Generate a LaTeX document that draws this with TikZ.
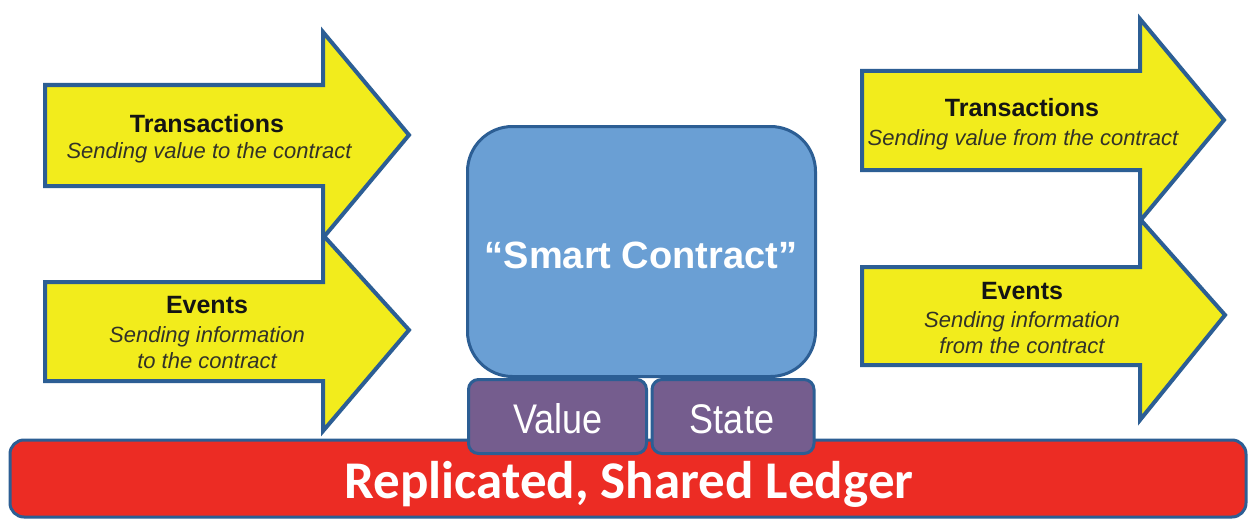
\documentclass[tikz,border=0pt]{standalone}
\usepackage{fontspec}
\setmainfont{Liberation Sans}
\newfontfamily\calibfont{Carlito}
\definecolor{arrowfill}{RGB}{242,236,28}
\definecolor{edgeblue}{RGB}{44,94,148}
\definecolor{scfill}{RGB}{106,159,212}
\definecolor{purp}{RGB}{117,93,142}
\definecolor{ledred}{RGB}{236,44,36}
\definecolor{subgray}{RGB}{50,50,40}
\begin{document}
\begin{tikzpicture}[x=1pt,y=-1pt,
  bigarrow/.style={fill=arrowfill, draw=edgeblue, line width=4pt, line join=miter},
  titletext/.style={anchor=base, inner sep=0pt, text=black!92, font=\fontsize{25}{30}\selectfont\bfseries},
  subtext/.style={anchor=base, inner sep=0pt, text=subgray, font=\fontsize{22}{26}\selectfont\itshape},
  smallbox/.style={draw=edgeblue, line width=3pt, fill=purp, rounded corners=10pt, inner sep=0pt, minimum width=178pt, minimum height=74pt},
  boxtext/.style={anchor=base, inner sep=0pt, text=white, font=\fontsize{36}{40}\selectfont}
]
\useasboundingbox (0,0) rectangle (1253,519);
\fill[white] (0,0) rectangle (1253,519);

% left arrows
\draw[bigarrow] (45,85) -- (323,85) -- (323,32) -- (409,135) -- (323,238) -- (323,186) -- (45,186) -- cycle;
\draw[bigarrow] (45,282) -- (323,282) -- (323,235) -- (409,330) -- (323,431) -- (323,381) -- (45,381) -- cycle;
% right arrows
\draw[bigarrow] (862,71) -- (1140,71) -- (1140,19) -- (1224,120) -- (1140,221) -- (1140,170) -- (862,170) -- cycle;
\draw[bigarrow] (862,267) -- (1140,267) -- (1140,219) -- (1225,315) -- (1140,420) -- (1140,365) -- (862,365) -- cycle;

% arrow texts
\node[titletext] (t1) at (207,132) {Transactions};
\node[subtext] (s1) at (209,158) {Sending value to the contract};
\node[titletext] (t2) at (207,313) {Events};
\node[subtext] (s2a) at (207,342) {Sending information};
\node[subtext] (s2b) at (207,368) {to the contract};
\node[titletext] (t3) at (1022,117) {Transactions};
\node[subtext] (s3) at (1023,145) {Sending value from the contract};
\node[titletext] (t4) at (1022,299) {Events};
\node[subtext] (s4a) at (1022,327) {Sending information};
\node[subtext] (s4b) at (1022,353) {from the contract};

% ledger
\node[draw=edgeblue, line width=3pt, fill=ledred, rounded corners=14pt, inner sep=0pt,
      minimum width=1236pt, minimum height=77pt] (ledger) at (628,478.5) {};
\node[anchor=base, inner sep=0pt, text=white, font=\calibfont\fontsize{53}{60}\selectfont\bfseries] (ledtext) at (629,498) {Replicated, Shared Ledger};

% value & state
\node[smallbox] (value) at (557.5,416.5) {};
\node[smallbox, minimum width=162pt] (state) at (733,416.5) {};
\node[boxtext] (valtext) at (558,433) {\scalebox{1}[1.15]{Value}};
\node[boxtext] (statetext) at (732,433) {\scalebox{1}[1.15]{State}};

% smart contract
\node[draw=edgeblue, line width=3pt, fill=scfill, rounded corners=45pt, inner sep=0pt,
      minimum width=348pt, minimum height=250pt] (sc) at (641.5,251.5) {};
\node[anchor=base, inner sep=0pt, text=white, font=\fontsize{38}{44}\selectfont\bfseries] (sctext) at (641,268) {“Smart Contract”};
\end{tikzpicture}
\end{document}
